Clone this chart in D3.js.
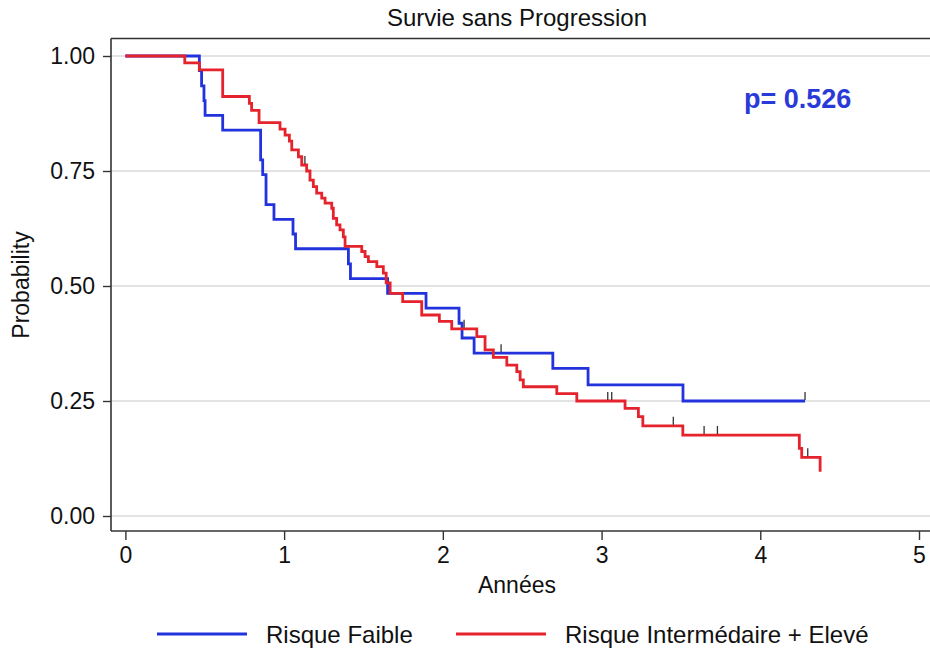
<!DOCTYPE html>
<html><head><meta charset="utf-8">
<script src="https://cdn.jsdelivr.net/npm/d3@7"></script>
<style>body{margin:0;background:#fff} svg{display:block;font-family:"Liberation Sans",Arial,sans-serif}</style>
</head><body><svg id="c" width="930" height="654"></svg>
<script>
// ---- data ----
const xTicks = [0, 1, 2, 3, 4, 5];
const yTicks = [0, 0.25, 0.5, 0.75, 1];
const seriesNames = ["Risque Faible", "Risque Intermédaire + Elevé"];

const blueTime = [0, 0.466, 0.480, 0.495, 0.502, 0.613, 0.852, 0.865, 0.886, 0.936, 1.056, 1.072, 1.405, 1.418, 1.652, 1.894, 2.102, 2.121, 2.197, 2.693, 2.915, 3.513, 4.282];
const blueSurv = [1, 0.968, 0.935, 0.903, 0.871, 0.839, 0.774, 0.742, 0.677, 0.645, 0.613, 0.581, 0.548, 0.516, 0.484, 0.452, 0.419, 0.387, 0.354, 0.321, 0.285, 0.250, 0.250];
const blueCensor = [2.367, 4.282];

const redTime = [0, 0.374, 0.466, 0.613, 0.781, 0.795, 0.842, 0.974, 1.006, 1.033, 1.048, 1.090, 1.111, 1.142, 1.163, 1.184, 1.205, 1.237, 1.258, 1.300, 1.310, 1.331, 1.352, 1.373, 1.384, 1.489, 1.510, 1.531, 1.584, 1.625, 1.643, 1.668, 1.747, 1.867, 1.978, 2.056, 2.214, 2.266, 2.318, 2.403, 2.466, 2.487, 2.507, 2.718, 2.844, 3.148, 3.232, 3.260, 3.512, 4.246, 4.261, 4.377];
const redSurv = [1, 0.985, 0.970, 0.912, 0.897, 0.882, 0.855, 0.841, 0.828, 0.815, 0.796, 0.781, 0.763, 0.750, 0.730, 0.716, 0.702, 0.691, 0.680, 0.669, 0.647, 0.633, 0.622, 0.607, 0.586, 0.575, 0.564, 0.553, 0.542, 0.528, 0.507, 0.484, 0.466, 0.437, 0.423, 0.407, 0.390, 0.361, 0.345, 0.328, 0.314, 0.296, 0.281, 0.266, 0.250, 0.234, 0.216, 0.196, 0.176, 0.147, 0.1275, 0.096];
const redCensor = [1.131, 2.134, 3.039, 3.064, 3.452, 3.646, 3.730, 4.299];

const pText = "p= 0.526";

// ---- layout ----
const svg = d3.select("#c");
const x = d3.scaleLinear().domain([0, 5]).range([125.4, 919]);
const y = d3.scaleLinear().domain([0, 1]).range([516, 56]);
const axisX = 111, axisY = 531, topY = 38.5;
const BLUE = "#2232dc", RED = "#e5232d", DARK = "#333";

// gridlines
svg.append("g").selectAll("line").data(yTicks).join("line")
  .attr("x1", axisX).attr("x2", 930)
  .attr("y1", d => y(d)).attr("y2", d => y(d))
  .attr("stroke", "#e3e3e3").attr("stroke-width", 2);

// frame (top)
svg.append("line").attr("x1", axisX).attr("x2", 930).attr("y1", topY).attr("y2", topY)
  .attr("stroke", DARK).attr("stroke-width", 1.6);

// y axis
const gy = svg.append("g").attr("transform", `translate(${axisX},0)`)
  .call(d3.axisLeft(y).tickValues(yTicks).tickFormat(d3.format(".2f")).tickSize(8).tickPadding(8));
gy.select(".domain").attr("d", `M0,${topY}V${axisY}`).attr("stroke", DARK).attr("stroke-width", 1.6);
gy.selectAll(".tick line").attr("stroke", DARK).attr("stroke-width", 1.4);
gy.selectAll(".tick text").attr("font-size", 23).attr("fill", "#111")
  .attr("font-family", "Liberation Sans, Arial, sans-serif");

// x axis
const gx = svg.append("g").attr("transform", `translate(0,${axisY})`)
  .call(d3.axisBottom(x).tickValues(xTicks).tickFormat(d3.format("d")).tickSize(9).tickPadding(7));
gx.select(".domain").attr("d", `M${axisX},0H930`).attr("stroke", DARK).attr("stroke-width", 1.6);
gx.selectAll(".tick line").attr("stroke", DARK).attr("stroke-width", 1.4);
gx.selectAll(".tick text").attr("font-size", 23).attr("fill", "#111")
  .attr("font-family", "Liberation Sans, Arial, sans-serif");

// titles
svg.append("text").attr("x", 517).attr("y", 26).attr("text-anchor", "middle")
  .attr("font-size", 24).attr("fill", "#111").text("Survie sans Progression");
svg.append("text").attr("x", 517).attr("y", 593).attr("text-anchor", "middle")
  .attr("font-size", 23).attr("fill", "#111").text("Années");
svg.append("text").attr("transform", "translate(29,285) rotate(-90)").attr("text-anchor", "middle")
  .attr("font-size", 23).attr("fill", "#111").text("Probability");

// curves
const line = d3.line().x(d => x(d[0])).y(d => y(d[1])).curve(d3.curveStepAfter);
function survAt(times, surv, t) { let i = d3.bisectRight(times, t) - 1; return surv[Math.max(0, i)]; }
function drawSeries(times, surv, cens, color) {
  const pts = times.map((t, i) => [t, surv[i]]);
  svg.append("path").datum(pts).attr("d", line).attr("fill", "none")
    .attr("stroke", color).attr("stroke-width", 2.8).attr("stroke-linejoin", "miter");
  svg.append("g").selectAll("line").data(cens).join("line")
    .attr("x1", d => x(d)).attr("x2", d => x(d))
    .attr("y1", d => y(survAt(times, surv, d)) - 1).attr("y2", d => y(survAt(times, surv, d)) - 9)
    .attr("stroke", DARK).attr("stroke-width", 1.3);
}
drawSeries(blueTime, blueSurv, blueCensor, BLUE);
drawSeries(redTime, redSurv, redCensor, RED);

// p-value
svg.append("text").attr("x", 744).attr("y", 108).attr("font-size", 27).attr("font-weight", "bold")
  .attr("fill", "#2a3ad8").text(pText);

// legend
const legend = [{name: seriesNames[0], color: BLUE, x: 157}, {name: seriesNames[1], color: RED, x: 456}];
const lg = svg.append("g").selectAll("g").data(legend).join("g");
lg.append("line").attr("x1", d => d.x).attr("x2", d => d.x + 90).attr("y1", 634).attr("y2", 634)
  .attr("stroke", d => d.color).attr("stroke-width", 2.8);
lg.append("text").attr("x", d => d.x + 109).attr("y", 643).attr("font-size", 24).attr("fill", "#111")
  .text(d => d.name);
</script></body></html>
